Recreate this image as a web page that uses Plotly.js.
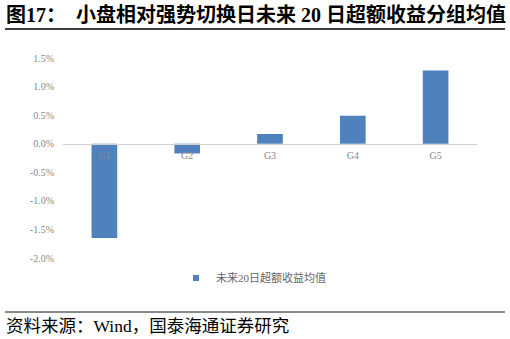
<!DOCTYPE html>
<html><head><meta charset="utf-8">
<script src="https://cdn.plot.ly/plotly-3.0.1.min.js"></script>
<style>body{margin:0;background:#fff}#c{width:510px;height:339px}</style>
</head><body><div id="c"></div>
<script>
const categories = ['G1','G2','G3','G4','G5'];
const values = [-1.65, -0.17, 0.17, 0.49, 1.28];
const seriesName = '未来20日超额收益均值';
const titleText = '图17：  小盘相对强势切换日未来 20 日超额收益分组均值';
const sourceText = '资料来源：Wind，国泰海通证券研究';
const yTicks = [-2.0,-1.5,-1.0,-0.5,0.0,0.5,1.0,1.5];

const serif = '"Liberation Serif","Noto Sans CJK SC",serif';
const L=63, R=477, T=58, B=258;
const W=R-L, H=B-T;
const px = x => (x-L)/W, py = y => (B-y)/H;
const barColor = '#4F81BD';

const bars = {
  type:'bar', x:categories, y:values, name:seriesName,
  marker:{color:barColor}, showlegend:false, hoverinfo:'skip'
};
// legend entry with a small square key, like the reference
const key = {
  type:'scatter', mode:'markers', x:[null], y:[null], name:seriesName,
  marker:{symbol:'square', size:6, color:barColor}, showlegend:true, hoverinfo:'skip'
};
const layout = {
  width:510, height:339,
  margin:{l:L, r:510-R, t:T, b:339-B},
  paper_bgcolor:'#fff', plot_bgcolor:'#fff',
  bargap:0.69,
  showlegend:true,
  legend:{orientation:'h', x:px(176), xanchor:'left', y:py(278), yanchor:'middle',
    font:{family:serif, size:11, color:'#666'}, itemwidth:20, tracegroupgap:0},
  xaxis:{anchor:'free', position:2.0/3.5, showline:true, linecolor:'#d0d0d0', linewidth:1,
    ticks:'', tickfont:{family:serif, size:10, color:'#888'}, showgrid:false, zeroline:false,
    ticklabelstandoff:2},
  yaxis:{range:[-2.0,1.5], tickvals:yTicks, ticktext:yTicks.map(v=>v.toFixed(1)+'%'),
    showgrid:false, zeroline:false, showline:false, ticks:'',
    tickfont:{family:serif, size:10, color:'#888'}, ticklabelstandoff:8},
  shapes:[
    {type:'line', xref:'paper', yref:'paper', x0:px(5), x1:px(505), y0:py(29), y1:py(29), line:{color:'#000', width:1.5}},
    {type:'line', xref:'paper', yref:'paper', x0:px(5), x1:px(505), y0:py(312), y1:py(312), line:{color:'#888', width:2}}
  ],
  annotations:[
    {text:'<b>'+titleText+'</b>', xref:'paper', yref:'paper', x:px(4), y:py(15), xanchor:'left', yanchor:'middle',
     showarrow:false, font:{family:serif, size:20, color:'#000'}},
    {text:sourceText, xref:'paper', yref:'paper', x:px(4), y:py(326), xanchor:'left', yanchor:'middle',
     showarrow:false, font:{family:serif, size:17.5, color:'#000'}}
  ]
};
Plotly.newPlot('c',[bars,key],layout,{displayModeBar:false,staticPlot:true});
</script></body></html>
